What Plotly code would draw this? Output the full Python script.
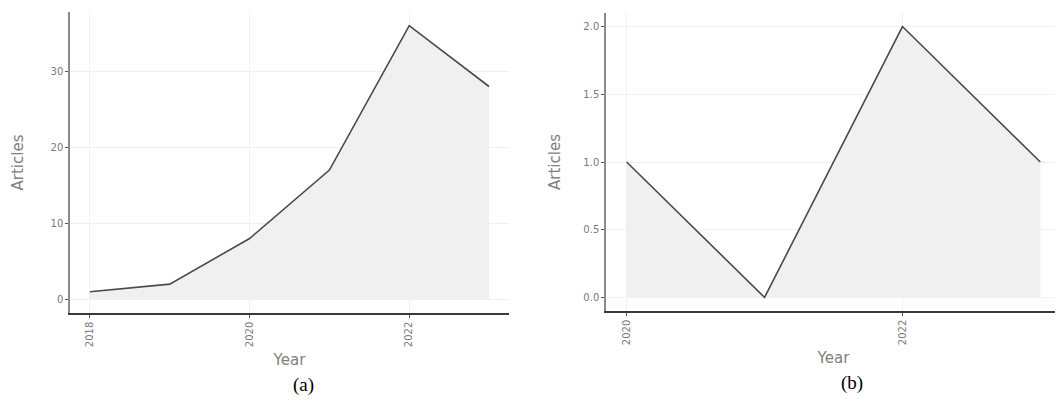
import plotly.graph_objects as go

years_a = [2018, 2019, 2020, 2021, 2022, 2023]
articles_a = [1, 2, 8, 17, 36, 28]
years_b = [2020, 2021, 2022, 2023]
articles_b = [1, 0, 2, 1]
ticks_a = [2018, 2020, 2022]
ticks_b = [2020, 2022]
yticks_a = [0, 10, 20, 30]
yticks_b = [0.0, 0.5, 1.0, 1.5, 2.0]
panel_labels = ["(a)", "(b)"]

LINE = "#4a4a4a"
FILL = "#f0f0f0"
GRID = "#f0f0f0"
TICKC = "#7a7a7a"

# page has an 8px body margin; figure is sized to fit window
OFF = 8
W, H = 1063 - OFF, 403 - OFF


def fx(px):
    return (px - OFF) / W


def fy(py):
    return 1 - (py - OFF) / H


fig = go.Figure()
fig.add_trace(go.Scatter(x=years_a, y=articles_a, mode="lines", fill="tozeroy",
                         fillcolor=FILL, line=dict(color=LINE, width=1.6),
                         xaxis="x", yaxis="y", showlegend=False))
fig.add_trace(go.Scatter(x=years_b, y=articles_b, mode="lines", fill="tozeroy",
                         fillcolor=FILL, line=dict(color=LINE, width=1.6),
                         xaxis="x2", yaxis="y2", showlegend=False))

common_x = dict(showgrid=True, gridcolor=GRID, gridwidth=1, zeroline=False, automargin=False,
                showline=True, linecolor="#3a3a3a", linewidth=1.5,
                ticks="outside", ticklen=3, tickcolor="#555", tickangle=-90,
                tickfont=dict(family="DejaVu Sans", size=10, color=TICKC),
                title=dict(text="Year", font=dict(family="DejaVu Sans", size=15, color="#808080"),
                           standoff=8))
common_y = dict(showgrid=True, gridcolor=GRID, gridwidth=1, zeroline=False, automargin=False,
                showline=True, linecolor="#8a8a8a", linewidth=1.5,
                ticks="outside", ticklen=3, tickcolor="#555",
                tickfont=dict(family="DejaVu Sans", size=10, color=TICKC),
                title=dict(text="Articles", font=dict(family="DejaVu Sans", size=15, color="#808080")))

fig.update_layout(
    width=W, height=H,
    margin=dict(l=0, r=0, t=0, b=0),
    paper_bgcolor="white", plot_bgcolor="white",
    xaxis=dict(common_x, domain=[fx(70), fx(509)], range=[2017.75, 2023.25],
               tickvals=ticks_a, anchor="y"),
    yaxis=dict(common_y, domain=[fy(313), fy(12)], range=[-1.8, 37.8],
               tickvals=yticks_a, anchor="x", title_standoff=23),
    xaxis2=dict(common_x, domain=[fx(606), fx(1061)], range=[2019.85, 2023.15],
                tickvals=ticks_b, anchor="y2"),
    yaxis2=dict(common_y, domain=[fy(311), fy(13)], range=[-0.1, 2.1],
                tickvals=yticks_b, tickformat=".1f", anchor="x2", title_standoff=19),
)

fig.add_annotation(text=panel_labels[0], x=fx(303), y=fy(385), xref="paper", yref="paper",
                   xanchor="center", yanchor="middle", showarrow=False,
                   font=dict(family="Liberation Serif", size=19, color="black"))
fig.add_annotation(text=panel_labels[1], x=fx(852), y=fy(383), xref="paper", yref="paper",
                   xanchor="center", yanchor="middle", showarrow=False,
                   font=dict(family="Liberation Serif", size=19, color="black"))

fig.write_html("out.html")
